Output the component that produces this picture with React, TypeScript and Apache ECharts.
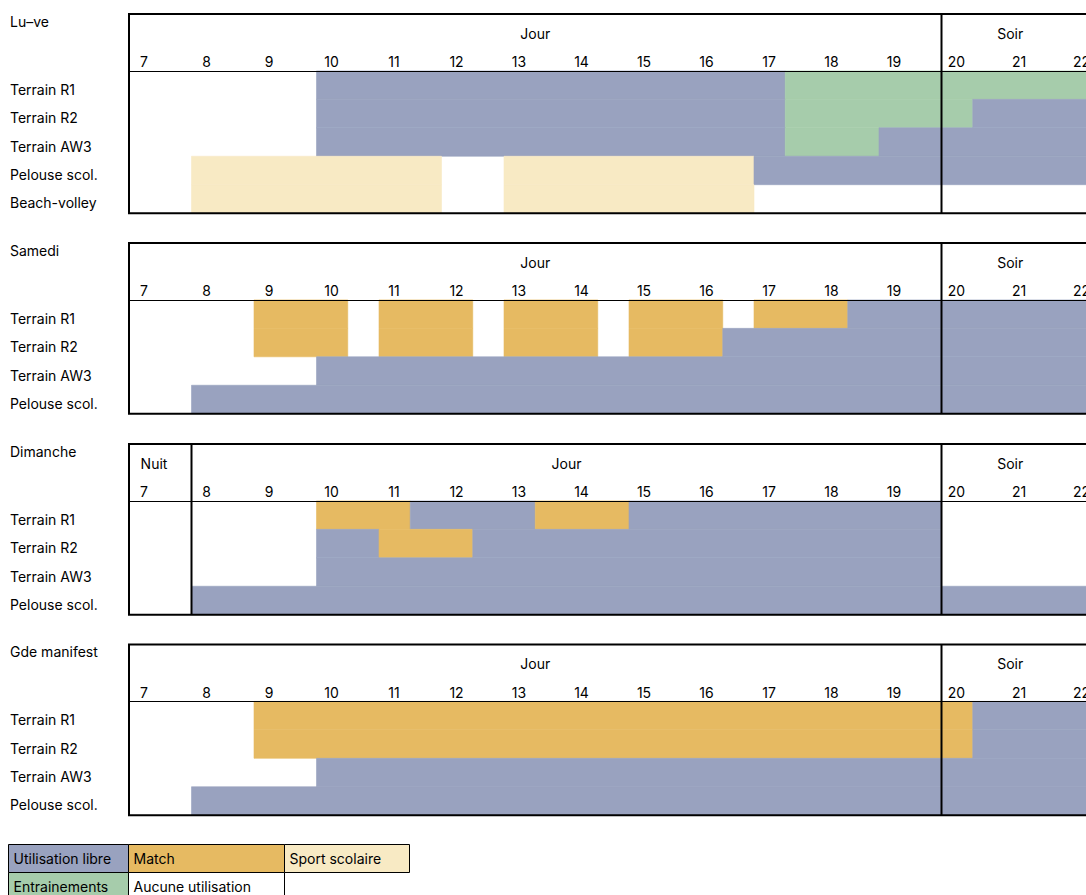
import React, { useEffect, useRef } from "react";
import * as echarts from "echarts";

// ---------- data ----------
const hourTicks = [7, 8, 9, 10, 11, 12, 13, 14, 15, 16, 17, 18, 19, 20, 21, 22, 23];
const HOUR_MIN = 7;
const HOUR_MAX = 24;

const typeNames = ["libre", "match", "scolaire", "entrainement", "aucune"];
const typeColors: Record<string, string> = {
  libre: "#99A2BF",
  match: "#E6BA62",
  scolaire: "#F8EAC4",
  entrainement: "#A6CCAB",
  aucune: "#FFFFFF",
};

// Lu–ve
const luveTitle = "Lu\u2013ve";
const luveRows = ["Terrain R1", "Terrain R2", "Terrain AW3", "Pelouse scol.", "Beach-volley"];
const luveSegments: [number, number, number, string][] = [
  [0, 10, 17.5, "libre"], [0, 17.5, 24, "entrainement"],
  [1, 10, 17.5, "libre"], [1, 17.5, 20.5, "entrainement"], [1, 20.5, 24, "libre"],
  [2, 10, 17.5, "libre"], [2, 17.5, 19, "entrainement"], [2, 19, 24, "libre"],
  [3, 8, 12, "scolaire"], [3, 13, 17, "scolaire"], [3, 17, 24, "libre"],
  [4, 8, 12, "scolaire"], [4, 13, 17, "scolaire"],
];
const luvePeriods: [string, number][] = [["Jour", 13.5], ["Soir", 21.1]];
const luveDividers = [20];

// Samedi
const samediTitle = "Samedi";
const samediRows = ["Terrain R1", "Terrain R2", "Terrain AW3", "Pelouse scol."];
const samediSegments: [number, number, number, string][] = [
  [0, 9, 10.5, "match"], [0, 11, 12.5, "match"], [0, 13, 14.5, "match"], [0, 15, 16.5, "match"],
  [0, 17, 18.5, "match"], [0, 18.5, 24, "libre"],
  [1, 9, 10.5, "match"], [1, 11, 12.5, "match"], [1, 13, 14.5, "match"], [1, 15, 16.5, "match"],
  [1, 16.5, 24, "libre"],
  [2, 10, 24, "libre"],
  [3, 8, 24, "libre"],
];
const samediPeriods: [string, number][] = [["Jour", 13.5], ["Soir", 21.1]];
const samediDividers = [20];

// Dimanche
const dimancheTitle = "Dimanche";
const dimancheRows = ["Terrain R1", "Terrain R2", "Terrain AW3", "Pelouse scol."];
const dimancheSegments: [number, number, number, string][] = [
  [0, 10, 11.5, "match"], [0, 11.5, 13.5, "libre"], [0, 13.5, 15, "match"], [0, 15, 20, "libre"],
  [1, 10, 11, "libre"], [1, 11, 12.5, "match"], [1, 12.5, 20, "libre"],
  [2, 10, 20, "libre"],
  [3, 8, 24, "libre"],
];
const dimanchePeriods: [string, number][] = [["Nuit", 7.4], ["Jour", 14], ["Soir", 21.1]];
const dimancheDividers = [8, 20];

// Gde manifest
const manifTitle = "Gde manifest";
const manifRows = ["Terrain R1", "Terrain R2", "Terrain AW3", "Pelouse scol."];
const manifSegments: [number, number, number, string][] = [
  [0, 9, 20.5, "match"], [0, 20.5, 24, "libre"],
  [1, 9, 20.5, "match"], [1, 20.5, 24, "libre"],
  [2, 10, 24, "libre"],
  [3, 8, 24, "libre"],
];
const manifPeriods: [string, number][] = [["Jour", 13.5], ["Soir", 21.1]];
const manifDividers = [20];

// legend
const legendNames = ["Utilisation libre", "Match", "Sport scolaire", "Entrainements", "Aucune utilisation"];
const legendTypes = ["libre", "match", "scolaire", "entrainement", "aucune"];

// ---------- layout / style ----------
const FONT = "Inter, 'Noto Sans', sans-serif";
const FS = 14;
const GRID_LEFT = 129;
const COL_W = 62.5;
const ROW_H = 28.45;
const HEADER_ROWS = 2;
const PANEL_TOPS = [14, 243, 444, 644.5];
const LEGEND_COLS = [8.5, 128.5, 284.5, 409.5];
const LEGEND_ROWS = [844.5, 872.5, 900.5];

const panels = [
  { title: luveTitle, rows: luveRows, segments: luveSegments, periods: luvePeriods, dividers: luveDividers },
  { title: samediTitle, rows: samediRows, segments: samediSegments, periods: samediPeriods, dividers: samediDividers },
  { title: dimancheTitle, rows: dimancheRows, segments: dimancheSegments, periods: dimanchePeriods, dividers: dimancheDividers },
  { title: manifTitle, rows: manifRows, segments: manifSegments, periods: manifPeriods, dividers: manifDividers },
];

function buildOption() {
  const grid: any[] = [];
  const xAxis: any[] = [];
  const yAxis: any[] = [];
  const series: any[] = [];
  const title: any[] = [];

  panels.forEach((p, i) => {
    const nUnits = p.rows.length + HEADER_ROWS;
    grid.push({
      left: GRID_LEFT,
      top: PANEL_TOPS[i],
      width: (HOUR_MAX - HOUR_MIN) * COL_W,
      height: nUnits * ROW_H,
      containLabel: false,
    });
    title.push({
      text: p.title,
      left: 10,
      top: PANEL_TOPS[i],
      padding: 0,
      textStyle: { fontFamily: FONT, fontSize: FS, fontWeight: "normal", color: "#000" },
    });
    xAxis.push({
      type: "value",
      gridIndex: i,
      min: HOUR_MIN,
      max: HOUR_MAX,
      interval: 1,
      position: "top",
      offset: -HEADER_ROWS * ROW_H,
      z: 10,
      axisLine: { show: true, lineStyle: { color: "#000", width: 1 } },
      axisTick: { show: false },
      splitLine: { show: false },
      axisLabel: {
        show: true,
        margin: 2,
        padding: [0, 0, 0, 30],
        color: "#000",
        fontFamily: FONT,
        fontSize: FS,
        formatter: (v: number) => (hourTicks.indexOf(v) >= 0 ? String(v) : ""),
      },
    });
    yAxis.push({
      type: "category",
      gridIndex: i,
      inverse: true,
      data: ["__h0", "__h1", ...p.rows],
      axisLine: { show: false },
      axisTick: { show: false },
      splitLine: { show: false },
      axisLabel: {
        interval: 0,
        align: "left",
        verticalAlign: "top",
        lineHeight: 8,
        margin: GRID_LEFT - 10,
        color: "#000",
        fontFamily: FONT,
        fontSize: FS,
        formatter: (v: string) => (v.indexOf("__") === 0 ? "" : v),
      },
    });

    // cells
    series.push({
      type: "custom",
      name: p.title,
      xAxisIndex: i,
      yAxisIndex: i,
      silent: true,
      z: 2,
      encode: { x: [0, 1], y: 2 },
      data: p.segments.map((s) => [s[1], s[2], s[0] + HEADER_ROWS, typeNames.indexOf(s[3])]),
      renderItem: (params: any, api: any) => {
        const a = api.coord([api.value(0), api.value(2)]);
        const b = api.coord([api.value(1), api.value(2)]);
        const h = api.size([0, 1])[1];
        const fill = typeColors[typeNames[api.value(3)]];
        return {
          type: "rect",
          shape: { x: a[0], y: a[1] - h / 2, width: b[0] - a[0], height: h },
          style: { fill, stroke: fill, lineWidth: 0.6 },
        };
      },
    });

    // frame + dividers
    series.push({
      type: "custom",
      xAxisIndex: i,
      yAxisIndex: i,
      silent: true,
      z: 20,
      encode: { x: 0, y: 1 },
      data: p.dividers.map((h) => [h, 0]),
      renderItem: (params: any, api: any) => {
        const cs = params.coordSys;
        const x = api.coord([api.value(0), 0])[0];
        const children: any[] = [
          {
            type: "line",
            shape: { x1: x, y1: cs.y, x2: x, y2: cs.y + cs.height },
            style: { stroke: "#000", lineWidth: 2 },
          },
        ];
        if (params.dataIndex === 0) {
          children.push({
            type: "rect",
            shape: { x: cs.x, y: cs.y, width: cs.width, height: cs.height },
            style: { fill: "none", stroke: "#000", lineWidth: 2 },
          });
        }
        return { type: "group", children };
      },
    });

    // period labels
    const periodNames = p.periods.map((q) => q[0]);
    series.push({
      type: "custom",
      xAxisIndex: i,
      yAxisIndex: i,
      silent: true,
      z: 20,
      encode: { x: 0, y: 1 },
      data: p.periods.map((q) => [q[1], 0]),
      renderItem: (params: any, api: any) => {
        const c = api.coord([api.value(0), 0]);
        return {
          type: "text",
          x: c[0],
          y: c[1] + 5,
          style: {
            text: periodNames[params.dataIndex],
            align: "center",
            verticalAlign: "middle",
            textAlign: "center",
            textVerticalAlign: "middle",
            fill: "#000",
            fontFamily: FONT,
            fontSize: FS,
          },
        };
      },
    });
  });

  // legend table
  const graphic: any[] = [];
  legendNames.forEach((name, k) => {
    const col = k % 3;
    const row = Math.floor(k / 3);
    const x = LEGEND_COLS[col];
    const w = LEGEND_COLS[col + 1] - x;
    const y = LEGEND_ROWS[row];
    const h = LEGEND_ROWS[row + 1] - y;
    graphic.push({
      type: "rect",
      shape: { x, y, width: w, height: h },
      style: { fill: typeColors[legendTypes[k]], stroke: "#000", lineWidth: 1 },
      silent: true,
    });
    graphic.push({
      type: "text",
      x: x + 5,
      y: y + h / 2,
      style: {
        text: name,
        align: "left",
        verticalAlign: "middle",
        textAlign: "left",
        textVerticalAlign: "middle",
        fill: "#000",
        fontFamily: FONT,
        fontSize: FS,
      },
      silent: true,
    });
  });

  return {
    animation: false,
    backgroundColor: "#fff",
    textStyle: { fontFamily: FONT },
    title,
    grid,
    xAxis,
    yAxis,
    series,
    graphic,
  };
}

export default function App() {
  const ref = useRef<HTMLDivElement>(null);
  useEffect(() => {
    if (!ref.current) return;
    const chart = echarts.init(ref.current, undefined, { renderer: "svg" });
    chart.setOption(buildOption() as any);
    return () => chart.dispose();
  }, []);
  return (
    <div
      style={{
        position: "fixed",
        left: 0,
        top: 0,
        width: 1086,
        height: 895,
        overflow: "hidden",
        background: "#fff",
      }}
    >
      <div ref={ref} style={{ width: 1200, height: 895 }} />
    </div>
  );
}
